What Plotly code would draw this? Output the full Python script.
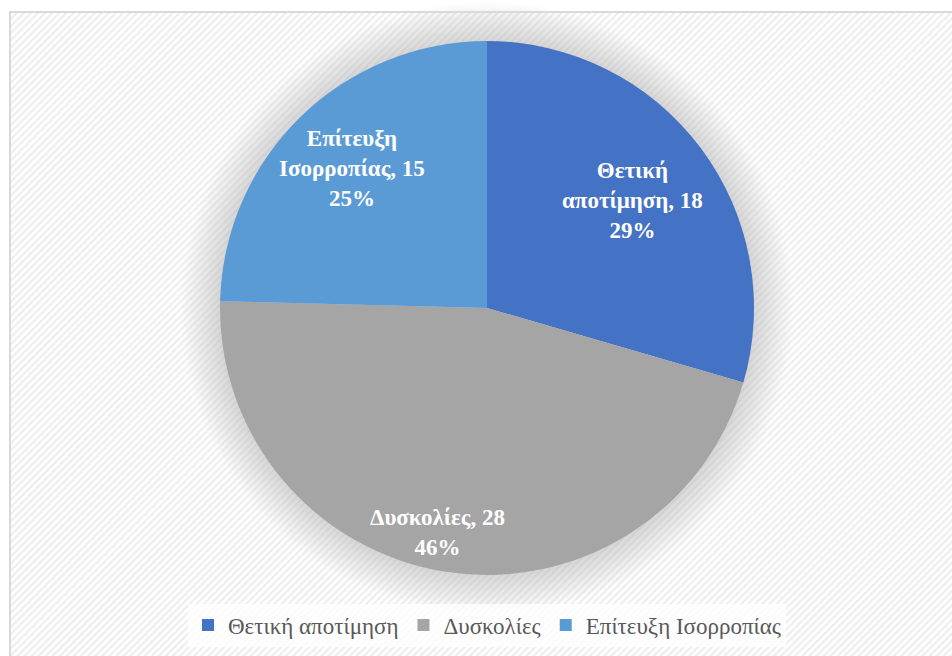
import base64
import plotly.graph_objects as go

# Survey responses grouped into three themes
categories = ["Θετική αποτίμηση", "Δυσκολίες", "Επίτευξη Ισορροπίας"]
counts = [18, 28, 15]
percent_labels = [29, 46, 25]
slice_colors = ["#4472C4", "#A5A5A5", "#5B9BD5"]

# Label text shown on the slices (multi-line, as wrapped on the chart)
label_lines = [
    ["Θετική", "αποτίμηση, {v}", "{p}%"],
    ["Δυσκολίες, {v}", "{p}%"],
    ["Επίτευξη", "Ισορροπίας, {v}", "{p}%"],
]
# Label centres in pixels (x from left, y from top)
label_pos_px = [(632, 200), (437, 532), (352, 169)]

W, H = 952, 656
cx, cy, R = 487, 308, 267
SERIF = "Liberation Serif, Times New Roman, serif"

# Background: fine diagonal stripes, soft glow behind the pie and a light frame
svg = f"""<svg xmlns='http://www.w3.org/2000/svg' width='{W}' height='{H}' viewBox='0 0 {W} {H}'>
<defs>
<pattern id='st' width='5' height='5' patternUnits='userSpaceOnUse' patternTransform='rotate(45)'>
<rect width='5' height='5' fill='#ffffff'/>
<rect width='2.2' height='5' fill='#eeeeee'/>
</pattern>
<radialGradient id='gl' cx='{cx}' cy='{cy}' r='{R + 40}' gradientUnits='userSpaceOnUse'>
<stop offset='0' stop-color='#b0b0b0' stop-opacity='0.5'/>
<stop offset='{R / (R + 40):.3f}' stop-color='#b0b0b0' stop-opacity='0.5'/>
<stop offset='1' stop-color='#b0b0b0' stop-opacity='0'/>
</radialGradient>
</defs>
<rect width='{W}' height='{H}' fill='#ffffff'/>
<rect x='9' y='12' width='{W}' height='{H}' fill='url(#st)'/>
<circle cx='{cx}' cy='{cy}' r='{R + 40}' fill='url(#gl)'/>
<rect x='10' y='12' width='{W + 10}' height='{H + 10}' fill='none' stroke='#d9d9d9' stroke-width='2'/>
</svg>"""
bg_uri = "data:image/svg+xml;base64," + base64.b64encode(svg.encode("utf-8")).decode()

fig = go.Figure(
    go.Pie(
        labels=categories,
        values=counts,
        sort=False,
        direction="clockwise",
        rotation=0,
        marker=dict(colors=slice_colors, line=dict(width=0)),
        textinfo="none",
        hoverinfo="label+value+percent",
        domain=dict(x=[(cx - R) / W, (cx + R) / W],
                    y=[1 - (cy + R) / H, 1 - (cy - R) / H]),
    )
)

annotations = []
for lines, v, p, (px, py) in zip(label_lines, counts, percent_labels, label_pos_px):
    text = "<br>".join(s.format(v=v, p=p) for s in lines)
    annotations.append(dict(
        x=px / W, y=1 - py / H, xref="paper", yref="paper",
        text=f"<b>{text}</b>", showarrow=False, align="center",
        font=dict(family=SERIF, size=23, color="#ffffff"),
        xanchor="center", yanchor="middle",
    ))

fig.update_layout(
    width=W, height=H,
    margin=dict(l=0, r=0, t=0, b=0),
    font=dict(family=SERIF),
    paper_bgcolor="#ffffff",
    plot_bgcolor="rgba(0,0,0,0)",
    images=[dict(source=bg_uri, xref="paper", yref="paper", x=0, y=1,
                 sizex=1, sizey=1, xanchor="left", yanchor="top",
                 sizing="stretch", layer="below")],
    annotations=annotations,
    showlegend=True,
    legend=dict(
        orientation="h",
        x=487 / W, xanchor="center",
        y=1 - 625 / H, yanchor="middle",
        font=dict(family=SERIF, size=23, color="#595959"),
        bgcolor="rgba(255,255,255,0.75)",
        itemwidth=30,
        traceorder="normal",
    ),
)

fig.write_html("out.html")
